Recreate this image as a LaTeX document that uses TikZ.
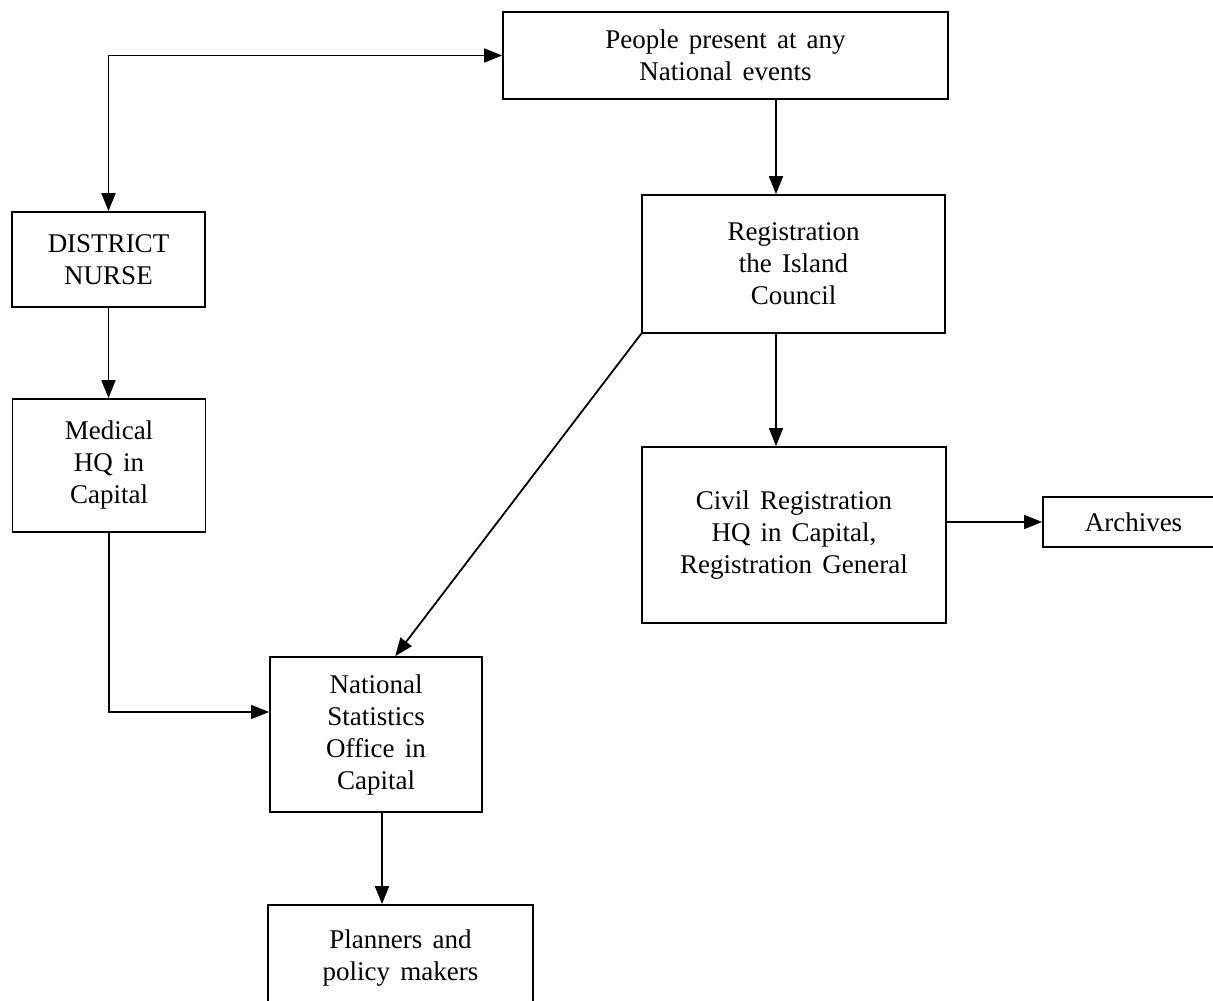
\documentclass[tikz,border=0pt]{standalone}
\usepackage{fontspec}
\setmainfont{Liberation Serif}[WordSpace=1.5]
\usetikzlibrary{arrows.meta,calc}
\tikzset{
  box/.style={draw, line width=1.8pt, inner sep=0pt, align=center,
    font=\fontsize{27}{32}\selectfont},
  conn/.style={line width=1.8pt, -{Triangle[length=18pt,width=14pt]}},
  dconn/.style={line width=1.8pt, {Triangle[length=18pt,width=14pt]}-{Triangle[length=18pt,width=14pt]}}
}
\begin{document}
\begin{tikzpicture}[x=1pt,y=-1pt]
\useasboundingbox (0,0) rectangle (1213,1001);
\clip (0,0) rectangle (1213,1001);
\fill[white] (0,0) rectangle (1213,1001);

\node[box, minimum width=445pt, minimum height=87pt] (box1) at (725.5,55.5) {People present at any\\National events};
\node[box, minimum width=193pt, minimum height=95pt] (dn) at (108.5,259.5) {DISTRICT\\NURSE};
\node[box, minimum width=303pt, minimum height=138pt] (reg) at (793.5,264) {Registration\\the Island\\Council};
\node[box, minimum width=193pt, minimum height=133pt] (med) at (109,465.5) {Medical\\HQ in\\Capital};
\node[box, minimum width=304pt, minimum height=176pt] (civ) at (794,535) {Civil Registration\\HQ in Capital,\\Registration General};
\node[box, minimum width=181pt, minimum height=50pt] (arch) at (1133.5,522) {Archives};
\node[box, minimum width=212pt, minimum height=155pt] (nso) at (376,734.5) {National\\Statistics\\Office in\\Capital};
\node[box, minimum width=265pt, minimum height=106pt] (pl) at (400.5,958) {Planners and\\policy makers};

\draw[dconn] (dn.north) |- (box1.west);
\draw[conn] ([xshift=-17.5pt]reg.north |- box1.south) -- ([xshift=-17.5pt]reg.north);
\draw[conn] ([xshift=-18pt]civ.north |- reg.south) -- ([xshift=-18pt]civ.north);
\draw[conn] (arch.west -| civ.east) -- (arch.west);
\draw[conn] (dn.south) -- (dn.south |- med.north);
\draw[conn] (med.south) |- ([yshift=22.5pt]nso.west);
\draw[conn] (reg.south west) -- ($(nso.north west)!0.59!(nso.north east)$);
\draw[conn] ([xshift=6pt]nso.south) -- ([xshift=6pt]nso.south |- pl.north);
\end{tikzpicture}
\end{document}
